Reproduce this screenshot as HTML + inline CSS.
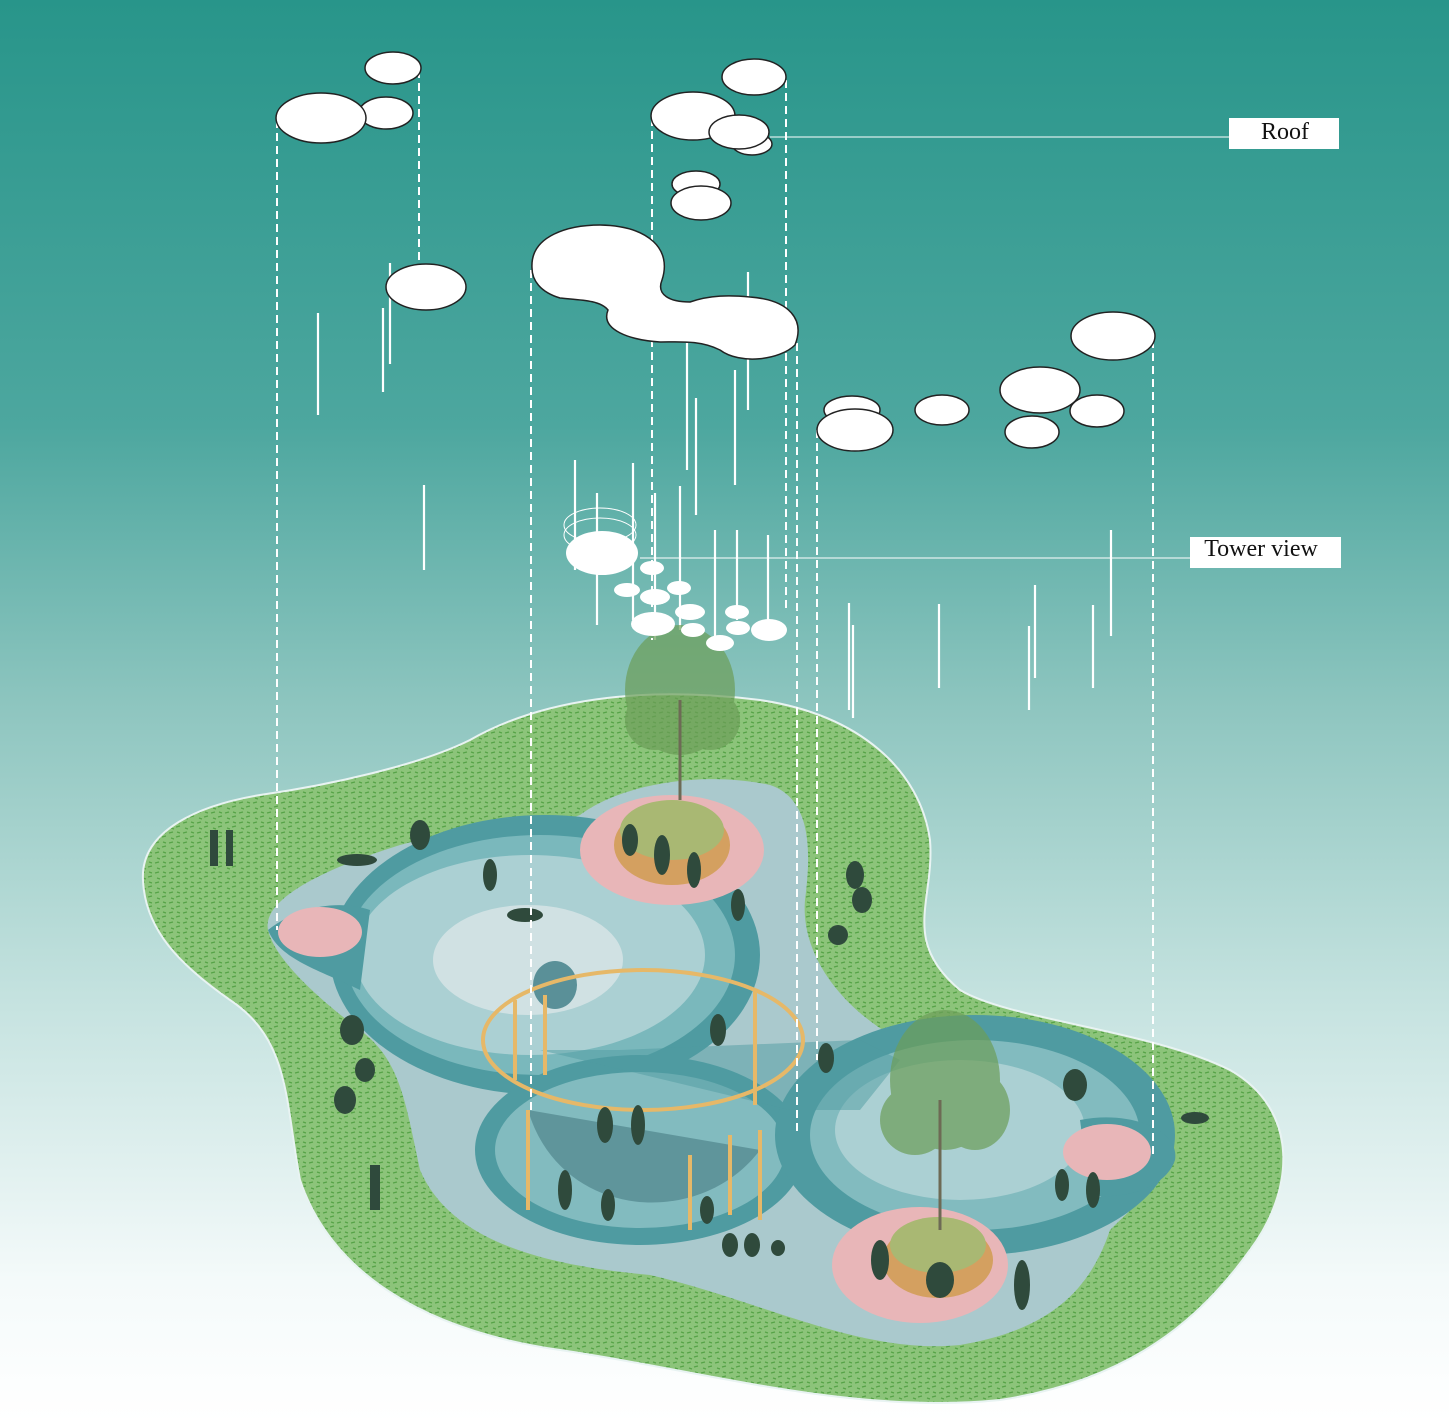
<!DOCTYPE html>
<html><head><meta charset="utf-8"><style>html,body{margin:0;padding:0}body{width:1449px;height:1422px;overflow:hidden}</style></head>
<body>
<svg width="1449" height="1422" viewBox="0 0 1449 1422" xmlns="http://www.w3.org/2000/svg">
<defs>
<linearGradient id="bg" x1="0" y1="0" x2="0" y2="1">
<stop offset="0" stop-color="#28958a"/>
<stop offset="0.3" stop-color="#4da79f"/>
<stop offset="0.5" stop-color="#8fc6c0"/>
<stop offset="0.7" stop-color="#c4e2df"/>
<stop offset="0.9" stop-color="#f4fafa"/>
<stop offset="1" stop-color="#ffffff"/>
</linearGradient>
<pattern id="grass" width="14" height="10" patternUnits="userSpaceOnUse">
<rect width="14" height="10" fill="#8cc47a"/>
<path d="M1 3 l4 -1 M8 7 l4 -1 M3 8 l3 1 M9 2 l3 1" stroke="#56a347" stroke-width="1.2"/>
</pattern>
</defs>
<rect width="1449" height="1422" fill="url(#bg)"/>

<g stroke="#fff" stroke-width="2.2">
<line x1="318" y1="313" x2="318" y2="415"/><line x1="383" y1="308" x2="383" y2="392"/><line x1="390" y1="263" x2="390" y2="364"/>
<line x1="424" y1="485" x2="424" y2="570"/><line x1="575" y1="460" x2="575" y2="570"/><line x1="597" y1="493" x2="597" y2="625"/>
<line x1="633" y1="463" x2="633" y2="620"/><line x1="655" y1="493" x2="655" y2="640"/><line x1="680" y1="486" x2="680" y2="630"/>
<line x1="687" y1="343" x2="687" y2="470"/><line x1="696" y1="398" x2="696" y2="515"/><line x1="715" y1="530" x2="715" y2="640"/>
<line x1="737" y1="530" x2="737" y2="620"/><line x1="735" y1="370" x2="735" y2="485"/><line x1="748" y1="272" x2="748" y2="410"/>
<line x1="768" y1="535" x2="768" y2="640"/><line x1="849" y1="603" x2="849" y2="710"/><line x1="853" y1="625" x2="853" y2="718"/>
<line x1="939" y1="604" x2="939" y2="688"/><line x1="1029" y1="626" x2="1029" y2="710"/><line x1="1035" y1="585" x2="1035" y2="678"/>
<line x1="1093" y1="605" x2="1093" y2="688"/><line x1="1111" y1="530" x2="1111" y2="636"/>
</g>

<path d="M143 880 C140 830 200 805 260 795 C330 785 420 765 470 740 C540 700 640 685 760 700 C860 715 920 770 930 840 C935 900 900 940 960 990 C1010 1020 1150 1030 1230 1070 C1300 1110 1295 1190 1250 1250 C1200 1320 1130 1380 1000 1400 C850 1415 700 1370 560 1350 C420 1330 330 1270 300 1180 C285 1100 290 1040 230 1000 C180 965 145 930 143 880 Z" fill="url(#grass)" stroke="#e8f3f2" stroke-width="2"/>
<path d="M268 930 C262 900 320 870 400 845 C470 825 540 830 580 815 C620 785 700 770 770 785 C815 800 810 860 805 900 C800 960 850 1020 920 1050 C1000 1085 1120 1100 1165 1135 C1185 1165 1140 1200 1110 1230 C1090 1290 1050 1330 960 1345 C860 1355 760 1300 650 1275 C540 1265 450 1240 420 1170 C405 1100 400 1060 360 1030 C320 1000 275 960 268 930 Z" fill="#aac9cd"/>
<ellipse cx="545" cy="955" rx="215" ry="140" fill="#4f9ba1"/>
<ellipse cx="540" cy="955" rx="195" ry="120" fill="#7ab8bc"/>
<ellipse cx="530" cy="955" rx="175" ry="100" fill="#abd0d3"/>
<ellipse cx="528" cy="960" rx="95" ry="55" fill="#d0e1e3"/>
<path d="M268 930 C300 905 340 900 370 910 L360 990 C320 970 280 960 268 930 Z" fill="#4f9ba1"/>
<ellipse cx="640" cy="1150" rx="165" ry="95" fill="#4f9ba1"/>
<ellipse cx="640" cy="1150" rx="145" ry="78" fill="#82bbbf"/>
<ellipse cx="975" cy="1135" rx="200" ry="120" fill="#4f9ba1"/>
<ellipse cx="975" cy="1135" rx="165" ry="95" fill="#82bbbf"/>
<ellipse cx="960" cy="1130" rx="125" ry="70" fill="#abd0d3"/>
<path d="M1080 1120 C1130 1110 1180 1130 1175 1160 C1165 1190 1120 1200 1090 1195 Z" fill="#4f9ba1"/>
<path d="M540 1050 L620 1050 L860 1040 L900 1060 L860 1110 L790 1110 Z" fill="#4f9ba1" opacity="0.5"/>
<ellipse cx="555" cy="985" rx="22" ry="24" fill="#5a9098"/>
<ellipse cx="672" cy="850" rx="92" ry="55" fill="#e8b6b8"/>
<ellipse cx="320" cy="932" rx="42" ry="25" fill="#e8b6b8"/>
<ellipse cx="1107" cy="1152" rx="44" ry="28" fill="#e8b6b8"/>
<ellipse cx="920" cy="1265" rx="88" ry="58" fill="#e8b6b8"/>
<ellipse cx="672" cy="845" rx="58" ry="40" fill="#d4a060"/>
<ellipse cx="672" cy="830" rx="52" ry="30" fill="#a9b873"/>
<ellipse cx="938" cy="1260" rx="55" ry="38" fill="#d4a060"/>
<ellipse cx="938" cy="1245" rx="48" ry="28" fill="#a9b873"/>
<ellipse cx="643" cy="1040" rx="160" ry="70" fill="none" stroke="#e6b868" stroke-width="4"/>
<path d="M528 1110 C560 1220 700 1230 760 1150" fill="#2a5d66" opacity="0.4"/>
<g stroke="#e6b868" stroke-width="4">
<line x1="528" y1="1110" x2="528" y2="1210"/><line x1="690" y1="1155" x2="690" y2="1230"/><line x1="760" y1="1130" x2="760" y2="1220"/>
<line x1="730" y1="1135" x2="730" y2="1215"/><line x1="515" y1="1000" x2="515" y2="1080"/><line x1="545" y1="995" x2="545" y2="1075"/>
<line x1="755" y1="990" x2="755" y2="1105"/>
</g>
<g fill="#6c9e58" opacity="0.7">
<ellipse cx="680" cy="690" rx="55" ry="65"/><ellipse cx="655" cy="720" rx="30" ry="30"/><ellipse cx="710" cy="720" rx="30" ry="30"/>
<ellipse cx="945" cy="1080" rx="55" ry="70"/><ellipse cx="915" cy="1120" rx="35" ry="35"/><ellipse cx="975" cy="1110" rx="35" ry="40"/>
</g>
<line x1="680" y1="700" x2="680" y2="800" stroke="#6d6a55" stroke-width="3"/>
<line x1="940" y1="1100" x2="940" y2="1230" stroke="#6d6a55" stroke-width="3"/>
<g fill="#2f4a3c">
<rect x="210" y="830" width="8" height="36"/><rect x="226" y="830" width="7" height="36"/>
<ellipse cx="357" cy="860" rx="20" ry="6"/><ellipse cx="420" cy="835" rx="10" ry="15"/>
<ellipse cx="352" cy="1030" rx="12" ry="15"/><ellipse cx="365" cy="1070" rx="10" ry="12"/><ellipse cx="345" cy="1100" rx="11" ry="14"/>
<rect x="370" y="1165" width="10" height="45"/><ellipse cx="855" cy="875" rx="9" ry="14"/><ellipse cx="862" cy="900" rx="10" ry="13"/><ellipse cx="838" cy="935" rx="10" ry="10"/>
<ellipse cx="1075" cy="1085" rx="12" ry="16"/><ellipse cx="1195" cy="1118" rx="14" ry="6"/>
<ellipse cx="490" cy="875" rx="7" ry="16"/><ellipse cx="525" cy="915" rx="18" ry="7"/><ellipse cx="738" cy="905" rx="7" ry="16"/>
<ellipse cx="718" cy="1030" rx="8" ry="16"/><ellipse cx="826" cy="1058" rx="8" ry="15"/><ellipse cx="605" cy="1125" rx="8" ry="18"/><ellipse cx="638" cy="1125" rx="7" ry="20"/>
<ellipse cx="565" cy="1190" rx="7" ry="20"/><ellipse cx="608" cy="1205" rx="7" ry="16"/><ellipse cx="707" cy="1210" rx="7" ry="14"/>
<ellipse cx="730" cy="1245" rx="8" ry="12"/><ellipse cx="752" cy="1245" rx="8" ry="12"/><ellipse cx="778" cy="1248" rx="7" ry="8"/>
<ellipse cx="630" cy="840" rx="8" ry="16"/><ellipse cx="662" cy="855" rx="8" ry="20"/><ellipse cx="694" cy="870" rx="7" ry="18"/>
<ellipse cx="880" cy="1260" rx="9" ry="20"/><ellipse cx="940" cy="1280" rx="14" ry="18"/><ellipse cx="1022" cy="1285" rx="8" ry="25"/>
<ellipse cx="1062" cy="1185" rx="7" ry="16"/><ellipse cx="1093" cy="1190" rx="7" ry="18"/>
</g>

<g fill="#fff">
<ellipse cx="602" cy="553" rx="36" ry="22"/><ellipse cx="652" cy="568" rx="12" ry="7"/><ellipse cx="627" cy="590" rx="13" ry="7"/>
<ellipse cx="655" cy="597" rx="15" ry="8"/><ellipse cx="679" cy="588" rx="12" ry="7"/><ellipse cx="653" cy="624" rx="22" ry="12"/>
<ellipse cx="690" cy="612" rx="15" ry="8"/><ellipse cx="737" cy="612" rx="12" ry="7"/><ellipse cx="693" cy="630" rx="12" ry="7"/>
<ellipse cx="738" cy="628" rx="12" ry="7"/><ellipse cx="720" cy="643" rx="14" ry="8"/><ellipse cx="769" cy="630" rx="18" ry="11"/>
</g>
<g fill="none" stroke="#fff" stroke-width="1"><ellipse cx="600" cy="525" rx="36" ry="17"/><ellipse cx="600" cy="535" rx="36" ry="17"/></g>

<g stroke="#fff" stroke-width="2" stroke-dasharray="8 5">
<line x1="277" y1="120" x2="277" y2="930"/><line x1="419" y1="70" x2="419" y2="265"/>
<line x1="531" y1="270" x2="531" y2="1110"/><line x1="652" y1="118" x2="652" y2="640"/>
<line x1="786" y1="80" x2="786" y2="610"/><line x1="797" y1="330" x2="797" y2="1135"/>
<line x1="817" y1="430" x2="817" y2="1060"/><line x1="1153" y1="340" x2="1153" y2="1155"/>
</g>

<g fill="#fff" stroke="#222" stroke-width="1.5">
<ellipse cx="393" cy="68" rx="28" ry="16"/>
<ellipse cx="386" cy="113" rx="27" ry="16"/>
<ellipse cx="321" cy="118" rx="45" ry="25"/>
<ellipse cx="426" cy="287" rx="40" ry="23"/>
<ellipse cx="754" cy="77" rx="32" ry="18"/>
<ellipse cx="693" cy="116" rx="42" ry="24"/>
<ellipse cx="752" cy="144" rx="20" ry="11"/>
<ellipse cx="739" cy="132" rx="30" ry="17"/>
<ellipse cx="696" cy="184" rx="24" ry="13"/>
<ellipse cx="701" cy="203" rx="30" ry="17"/>
<path d="M532 268 C530 235 570 225 600 225 C650 226 672 250 662 280 C656 295 670 302 690 302 C710 295 730 295 750 297 C790 300 805 320 795 345 C780 360 740 365 720 350 C700 340 680 342 660 342 C630 340 600 330 608 310 C600 300 580 300 560 298 C540 292 532 280 532 268 Z"/>
<ellipse cx="852" cy="410" rx="28" ry="14"/>
<ellipse cx="855" cy="430" rx="38" ry="21"/>
<ellipse cx="942" cy="410" rx="27" ry="15"/>
<ellipse cx="1113" cy="336" rx="42" ry="24"/>
<ellipse cx="1040" cy="390" rx="40" ry="23"/>
<ellipse cx="1097" cy="411" rx="27" ry="16"/>
<ellipse cx="1032" cy="432" rx="27" ry="16"/>
</g>

<line x1="770" y1="137" x2="1229" y2="137" stroke="#fff" stroke-width="1"/>
<line x1="640" y1="558" x2="1190" y2="558" stroke="#fff" stroke-width="1"/>
<rect x="1229" y="118" width="110" height="31" fill="#fff"/>
<rect x="1190" y="537" width="151" height="31" fill="#fff"/>
<text x="1285" y="139" font-family="Liberation Serif, serif" font-size="24" text-anchor="middle" fill="#111">Roof</text>
<text x="1261" y="556" font-family="Liberation Serif, serif" font-size="24" text-anchor="middle" fill="#111">Tower view</text>
</svg>
</body></html>
